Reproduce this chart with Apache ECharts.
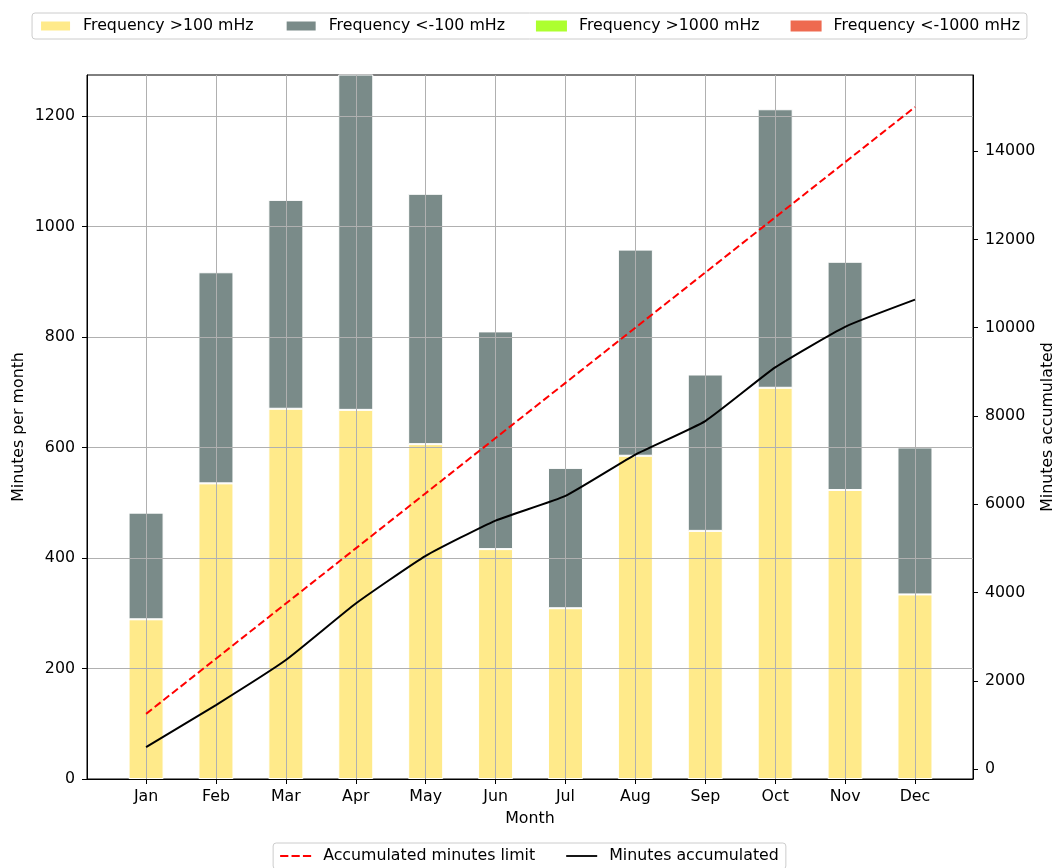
<!DOCTYPE html>
<html>
<head>
<meta charset="utf-8">
<script src="https://cdn.jsdelivr.net/npm/echarts@6/dist/echarts.min.js"></script>
<style>html,body{margin:0;padding:0;background:#fff;}#c{width:1059px;height:868px;}</style>
</head>
<body>
<div id="c"></div>
<script>
const months = ['Jan','Feb','Mar','Apr','May','Jun','Jul','Aug','Sep','Oct','Nov','Dec'];
const freqAbove100 = [289, 535, 670, 668, 606, 416, 309, 585, 449, 708, 523, 334];
const freqBelow100 = [193, 382, 378, 632, 453, 394, 254, 373, 283, 504, 413, 266];
const freqAbove1000 = [0, 0, 0, 0, 0, 0, 0, 0, 0, 0, 0, 0];
const freqBelow1000 = [0, 0, 0, 0, 0, 0, 0, 0, 0, 0, 0, 0];
const accumulatedLimit = [1250, 2500, 3750, 5000, 6250, 7500, 8750, 10000, 11250, 12500, 13750, 15000];
const minutesAccumulated = [495, 1450, 2470, 3750, 4830, 5630, 6190, 7125, 7885, 9100, 10020, 10635];
const monthTicks = [0,1,2,3,4,5,6,7,8,9,10,11];
const leftTicks = [0, 200, 400, 600, 800, 1000, 1200];
const rightTicks = [0, 2000, 4000, 6000, 8000, 10000, 12000, 14000];

const FONT = 'DejaVu Sans';
const FS = 15.8;
// value first, month index second (encode maps them) so stacking applies to the value
const pairsVX = arr => arr.map((v, i) => [v, i]);
const pairsXV = arr => arr.map((v, i) => [i, v]);

const chart = echarts.init(document.getElementById('c'), null, {renderer: 'canvas'});
const barCommon = {
  type: 'bar', stack: 'freq', barWidth: 35, xAxisIndex: 0, yAxisIndex: 0,
  encode: {x: 1, y: 0}
};
const txt = {fontFamily: FONT, fontSize: FS, color: '#000'};
chart.setOption({
  animation: false,
  textStyle: {fontFamily: FONT},
  grid: {left: 87, right: 86, top: 75, bottom: 89, outerBoundsMode: 'none', containLabel: false,
         show: true, borderColor: '#000', borderWidth: 1, backgroundColor: 'transparent'},
  legend: [
    {
      data: ['Frequency >100 mHz', 'Frequency <-100 mHz', 'Frequency >1000 mHz', 'Frequency <-1000 mHz'],
      top: 13, left: 'center', itemWidth: 31, itemHeight: 11, itemGap: 31,
      padding: [5, 7], borderColor: '#cccccc', borderWidth: 1, borderRadius: 3,
      textStyle: Object.assign({padding: [0, 0, 0, 7]}, txt),
      icon: 'rect'
    },
    {
      data: [
        {name: 'Accumulated minutes limit', icon: 'path://M0,0h9v2h-9z M12.5,0h9v2h-9z M25,0h9v2h-9z'},
        {name: 'Minutes accumulated', icon: 'path://M0,0h34v2h-34z'}
      ],
      top: 843, left: 'center', itemWidth: 31, itemHeight: 2, itemGap: 31,
      padding: [5, 7], borderColor: '#cccccc', borderWidth: 1, borderRadius: 3,
      textStyle: Object.assign({padding: [0, 0, 0, 7]}, txt)
    }
  ],
  xAxis: {
    type: 'value', min: -0.845, max: 11.83, z: 3,
    name: 'Month', nameLocation: 'middle', nameGap: 32, nameMoveOverlap: false,
    nameTextStyle: txt,
    axisLine: {show: true, onZero: false, lineStyle: {color: '#000', width: 1}},
    axisTick: {show: true, length: 5, lineStyle: {color: '#000'}, customValues: monthTicks},
    axisLabel: Object.assign({customValues: monthTicks, formatter: v => months[Math.round(v)], margin: 10}, txt),
    splitLine: {show: true, lineStyle: {color: '#b0b0b0', width: 1}}
  },
  yAxis: [
    {
      type: 'value', min: 0, max: 1274, position: 'left', z: 3,
      name: 'Minutes per month', nameLocation: 'middle', nameGap: 60, nameRotate: 90, nameMoveOverlap: false,
      nameTextStyle: txt,
      axisLine: {show: true, onZero: false, lineStyle: {color: '#000', width: 1}},
      axisTick: {show: true, length: 5, lineStyle: {color: '#000'}, customValues: leftTicks},
      axisLabel: Object.assign({customValues: leftTicks, formatter: v => String(v), margin: 12}, txt),
      splitLine: {show: true, lineStyle: {color: '#b0b0b0', width: 1}}
    },
    {
      type: 'value', min: -226, max: 15726, position: 'right', z: 3,
      name: 'Minutes accumulated', nameLocation: 'middle', nameGap: 67, nameRotate: 90, nameMoveOverlap: false,
      nameTextStyle: txt,
      axisLine: {show: true, onZero: false, lineStyle: {color: '#000', width: 1}},
      axisTick: {show: true, length: 5, lineStyle: {color: '#000'}, customValues: rightTicks},
      axisLabel: Object.assign({customValues: rightTicks, formatter: v => String(v), margin: 12}, txt),
      splitLine: {show: false}
    }
  ],
  series: [
    Object.assign({}, barCommon, {name: 'Frequency >100 mHz', data: pairsVX(freqAbove100), itemStyle: {color: '#FFEA8A', borderColor: '#fff', borderWidth: 1}}),
    Object.assign({}, barCommon, {name: 'Frequency <-100 mHz', data: pairsVX(freqBelow100), itemStyle: {color: '#7A8B89', borderColor: '#fff', borderWidth: 1}}),
    Object.assign({}, barCommon, {name: 'Frequency >1000 mHz', data: pairsVX(freqAbove1000), itemStyle: {color: '#ADFF2F', borderWidth: 0}}),
    Object.assign({}, barCommon, {name: 'Frequency <-1000 mHz', data: pairsVX(freqBelow1000), itemStyle: {color: '#EE6A50', borderWidth: 0}}),
    {
      name: 'Accumulated minutes limit', type: 'line', xAxisIndex: 0, yAxisIndex: 1, z: 5,
      data: pairsXV(accumulatedLimit), symbol: 'none', itemStyle: {color: '#ff0000'},
      lineStyle: {color: '#ff0000', width: 2, type: [7.5, 3.5]}
    },
    {
      name: 'Minutes accumulated', type: 'line', xAxisIndex: 0, yAxisIndex: 1, z: 5,
      data: pairsXV(minutesAccumulated), symbol: 'none', smooth: 0.15, itemStyle: {color: '#000'},
      lineStyle: {color: '#000', width: 2}
    }
  ]
});
</script>
</body>
</html>
